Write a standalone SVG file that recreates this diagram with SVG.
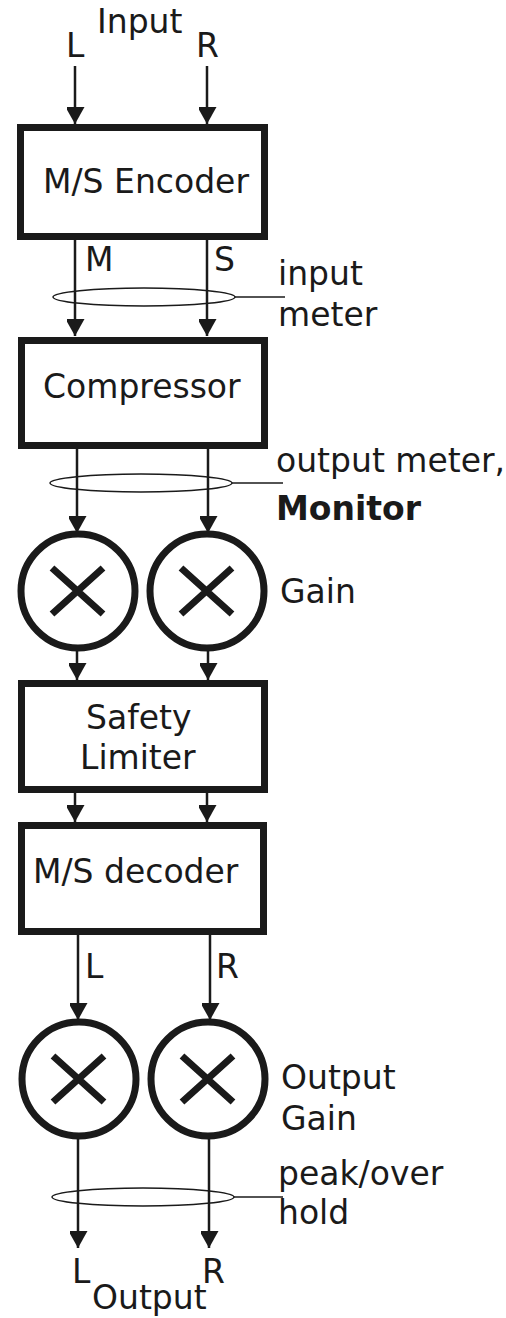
<svg xmlns="http://www.w3.org/2000/svg" width="506" height="1318" viewBox="0 0 506 1318">
<style>
text{font-family:"DejaVu Sans","Liberation Sans",sans-serif;font-size:33px;fill:#1a1a1a}
.box{fill:#fff;stroke:#1a1a1a;stroke-width:7}
.mul{fill:#fff;stroke:#1a1a1a;stroke-width:7}
.x{stroke:#1a1a1a;stroke-width:7;fill:none}
.wire{stroke:#1a1a1a;stroke-width:2.5;fill:none}
.meter{stroke:#1a1a1a;stroke-width:1.5;fill:none}
.bold{font-weight:bold}
</style>
<defs>
<marker id="ah" markerUnits="userSpaceOnUse" markerWidth="20" markerHeight="18" refX="17" refY="9.5" orient="auto">
<path d="M0,0 L17,9.5 L0,19 Z" fill="#1a1a1a"/>
</marker>
</defs>
<g id="connectors">
<line class="wire" x1="75" y1="66" x2="75" y2="124" marker-end="url(#ah)"/>
<line class="wire" x1="207" y1="66" x2="207" y2="124" marker-end="url(#ah)"/>
<line class="wire" x1="75" y1="240" x2="75" y2="336" marker-end="url(#ah)"/>
<line class="wire" x1="207" y1="240" x2="207" y2="336" marker-end="url(#ah)"/>
<line class="wire" x1="77" y1="449" x2="77" y2="533" marker-end="url(#ah)"/>
<line class="wire" x1="208" y1="449" x2="208" y2="533" marker-end="url(#ah)"/>
<line class="wire" x1="77" y1="650" x2="77" y2="680" marker-end="url(#ah)"/>
<line class="wire" x1="208" y1="650" x2="208" y2="680" marker-end="url(#ah)"/>
<line class="wire" x1="75" y1="793" x2="75" y2="822" marker-end="url(#ah)"/>
<line class="wire" x1="207" y1="793" x2="207" y2="822" marker-end="url(#ah)"/>
<line class="wire" x1="78" y1="935" x2="78" y2="1020" marker-end="url(#ah)"/>
<line class="wire" x1="210" y1="935" x2="210" y2="1020" marker-end="url(#ah)"/>
<line class="wire" x1="78" y1="1137" x2="78" y2="1248" marker-end="url(#ah)"/>
<line class="wire" x1="209" y1="1137" x2="209" y2="1248" marker-end="url(#ah)"/>
</g>
<g id="input-labels">
<text x="97" y="33">Input</text>
<text x="66" y="57">L</text>
<text x="196" y="57">R</text>
</g>
<g id="ms-encoder">
<rect class="box" x="20.5" y="127.5" width="244" height="109"/>
<text x="43" y="193">M/S Encoder</text>
</g>
<g id="ms-labels">
<text x="85" y="271">M</text>
<text x="214" y="271">S</text>
</g>
<g id="input-meter">
<ellipse class="meter" cx="144" cy="297" rx="91" ry="9"/>
<line class="meter" x1="235" y1="297" x2="285" y2="297"/>
<text x="278" y="285">input</text>
<text x="278" y="326">meter</text>
</g>
<g id="compressor">
<rect class="box" x="21.5" y="340.5" width="243" height="105"/>
<text x="43" y="398">Compressor</text>
</g>
<g id="output-meter">
<ellipse class="meter" cx="141" cy="483" rx="91" ry="9"/>
<line class="meter" x1="232" y1="483" x2="283" y2="483"/>
<text x="276" y="472">output meter,</text>
<text x="276" y="520" class="bold">Monitor</text>
</g>
<g id="gain-left">
<circle class="mul" cx="78" cy="591" r="57"/>
<path class="x" d="M52,568 L103,614 M103,568 L52,614"/>
</g>
<g id="gain-right">
<circle class="mul" cx="207" cy="591" r="57"/>
<path class="x" d="M181,568 L232,614 M232,568 L181,614"/>
</g>
<text id="gain-label" x="280" y="603">Gain</text>
<g id="safety-limiter">
<rect class="box" x="21.5" y="683.5" width="243" height="106"/>
<text x="86" y="729">Safety</text>
<text x="80" y="769">Limiter</text>
</g>
<g id="ms-decoder">
<rect class="box" x="21.5" y="825.5" width="242" height="106"/>
<text x="33" y="883">M/S decoder</text>
</g>
<g id="lr-labels">
<text x="85" y="978">L</text>
<text x="216" y="978">R</text>
</g>
<g id="out-gain-left">
<circle class="mul" cx="79" cy="1079" r="57"/>
<path class="x" d="M53,1056 L104,1102 M104,1056 L53,1102"/>
</g>
<g id="out-gain-right">
<circle class="mul" cx="208" cy="1079" r="57"/>
<path class="x" d="M182,1056 L233,1102 M233,1056 L182,1102"/>
</g>
<g id="out-gain-label">
<text x="281" y="1089">Output</text>
<text x="281" y="1130">Gain</text>
</g>
<g id="peak-meter">
<ellipse class="meter" cx="143" cy="1197" rx="91" ry="9"/>
<line class="meter" x1="234" y1="1197" x2="283" y2="1197"/>
<text x="278" y="1185">peak/over</text>
<text x="278" y="1224">hold</text>
</g>
<g id="output-labels">
<text x="72" y="1283">L</text>
<text x="202" y="1283">R</text>
<text x="92" y="1309">Output</text>
</g>
</svg>
